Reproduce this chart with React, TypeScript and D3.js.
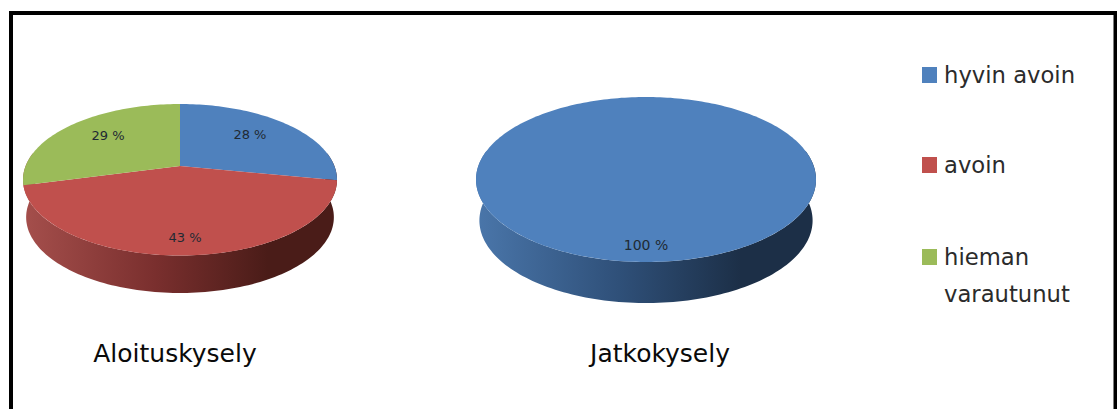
import React from "react";
import * as d3 from "d3";

// Survey answers, in percent
const categories = ["hyvin avoin", "avoin", "hieman varautunut"];
const startSurvey = [28, 43, 29];
const followUpSurvey = [100, 0, 0];
const surveyTitles = ["Aloituskysely", "Jatkokysely"];

const topColors = ["#4f81bd", "#c0504d", "#9bbb59"];
const wallStops = [
  ["#4a76aa", "#2f5079", "#1c2f47"],
  ["#a54f4c", "#7a2f2e", "#4a1c18"],
  ["#8aa650", "#5f7436", "#3c4a20"],
];

const W = 1117;
const H = 409;
const FONT = "'DejaVu Sans', sans-serif";

type Disc = {
  cx: number; rx: number; top: number; bottom: number; depth: number; inset: number;
  labelRadius: number[]; labelDy: number; labelSize: number; titleX: number; titleY: number;
};

const discs: Disc[] = [
  { cx: 180, rx: 157, top: 104, bottom: 255.5, depth: 37.5, inset: 0.98, labelRadius: [0.63, 0.87, 0.63], labelDy: -4, labelSize: 13, titleX: 175, titleY: 362 },
  { cx: 646, rx: 170, top: 97, bottom: 262, depth: 41, inset: 0.98, labelRadius: [0.85], labelDy: 0, labelSize: 14, titleX: 660, titleY: 362 },
];

// Perspective mapping of a flat unit circle onto the tilted disc outline
function projector(d: Disc) {
  const apex = d.top + 0.41 * (d.bottom - d.top);
  const down = d.bottom - apex;
  const up = apex - d.top;
  const b = (up - down) / (up + down);
  const a = down * (1 + b);
  const c = d.rx * Math.sqrt(1 - b * b);
  const project = (theta: number, r = 1, scale = 1, shift = 0): [number, number] => {
    const u = Math.sin(theta) * r;
    const v = -Math.cos(theta) * r;
    const w = 1 + b * v;
    return [d.cx + (scale * c * u) / w, apex + shift + (a * v) / w];
  };
  const tangent = Math.acos(b);
  return { project, apex, wallFrom: Math.PI - tangent, wallTo: Math.PI + tangent };
}

const outline = d3.line();
const pieLayout = d3.pie<number>().sort(null).value((v) => v);

function sweep(from: number, to: number): number[] {
  const n = Math.max(2, Math.ceil(Math.abs(to - from) * 40));
  return d3.range(n + 1).map((i) => from + ((to - from) * i) / n);
}

function Pie3D({ values, disc, id }: { values: number[]; disc: Disc; id: string }) {
  const { project, apex, wallFrom, wallTo } = projector(disc);
  const arcs = pieLayout(values).filter((s) => s.value > 0);
  const full = arcs.length === 1;
  // The slice facing the viewer carries the whole visible side wall
  const facing = arcs.find((s) => s.startAngle <= Math.PI && s.endAngle >= Math.PI)!;
  const front = sweep(wallFrom, wallTo).map((t) => project(t));
  const back = sweep(wallTo, wallFrom).map((t) => project(t, 1, disc.inset, disc.depth));
  const stops = wallStops[facing.index];
  return (
    <g>
      <defs>
        <linearGradient id={`${id}-wall`} x1="0" x2="1" y1="0" y2="0">
          <stop offset="0" stopColor={stops[0]} />
          <stop offset="0.42" stopColor={stops[1]} />
          <stop offset="0.78" stopColor={stops[2]} />
          <stop offset="1" stopColor={stops[2]} />
        </linearGradient>
      </defs>
      <path d={outline([...front, ...back]) + "Z"} fill={`url(#${id}-wall)`} />
      {arcs.map((s) => {
        const rim = sweep(s.startAngle, s.endAngle).map((t) => project(t));
        const pts = full ? rim : [[disc.cx, apex] as [number, number], ...rim];
        return <path key={s.index} d={outline(pts) + "Z"} fill={topColors[s.index]} />;
      })}
      {arcs.map((s, i) => {
        const [x, y] = project((s.startAngle + s.endAngle) / 2, disc.labelRadius[i]);
        return (
          <text key={s.index} x={x} y={y + disc.labelDy} textAnchor="middle" dominantBaseline="central"
            fontFamily={FONT} fontSize={disc.labelSize} fill="#1f2a33">
            {s.value} %
          </text>
        );
      })}
    </g>
  );
}

// Legend rows; the last entry wraps onto a second line
const legendRows = [
  { lines: ["hyvin avoin"], y: 83 },
  { lines: ["avoin"], y: 173 },
  { lines: ["hieman", "varautunut"], y: 265 },
];

export default function App() {
  return (
    <svg width={W} height={H} viewBox={`0 0 ${W} ${H}`}
      style={{ position: "absolute", left: 0, top: 0, display: "block", background: "#fff" }}>
      <path d="M11 409V13H1115.5V409" fill="none" stroke="#000" strokeWidth={4} />
      <Pie3D values={startSurvey} disc={discs[0]} id="start" />
      <Pie3D values={followUpSurvey} disc={discs[1]} id="followup" />
      {surveyTitles.map((t, i) => (
        <text key={t} x={discs[i].titleX} y={discs[i].titleY} textAnchor="middle"
          fontFamily={FONT} fontSize={25} fill="#0a0a0a">{t}</text>
      ))}
      {legendRows.map((row, i) => (
        <g key={categories[i]}>
          <rect x={922} y={row.y - 16} width={15} height={16} fill={topColors[i]} />
          {row.lines.map((l, j) => (
            <text key={l} x={944} y={row.y + j * 37} fontFamily={FONT} fontSize={22.7}
              fill="#2b2b2b">{l}</text>
          ))}
        </g>
      ))}
    </svg>
  );
}
